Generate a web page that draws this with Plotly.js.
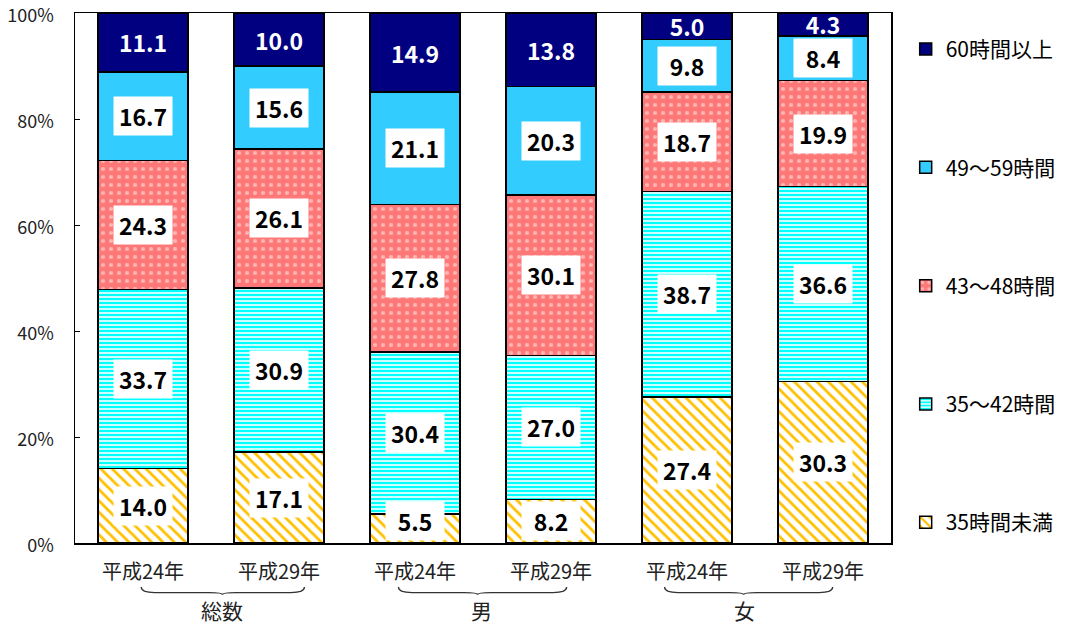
<!DOCTYPE html>
<html>
<head>
<meta charset="utf-8">
<script src="https://cdn.plot.ly/plotly-3.0.1.min.js"></script>
<style>
  html, body { margin: 0; padding: 0; background: #fff; }
  #chart { width: 1073px; height: 630px; }
</style>
</head>
<body>
<div id="chart"></div>
<script>
// 週間就業時間の構成比（平成24年・29年）
const years = ["平成24年", "平成29年", "平成24年", "平成29年", "平成24年", "平成29年"];
const groups = ["総数", "男", "女"];

const seriesNames = ["35時間未満", "35～42時間", "43～48時間", "49～59時間", "60時間以上"];
const under35  = [14.0, 17.1, 5.5, 8.2, 27.4, 30.3];
const h35to42  = [33.7, 30.9, 30.4, 27.0, 38.7, 36.6];
const h43to48  = [24.3, 26.1, 27.8, 30.1, 18.7, 19.9];
const h49to59  = [16.7, 15.6, 21.1, 20.3, 9.8, 8.4];
const over60   = [11.1, 10.0, 14.9, 13.8, 5.0, 4.3];

const yTicks = [0, 20, 40, 60, 80, 100];
const yTickText = ["0%", "20%", "40%", "60%", "80%", "100%"];

const series = [under35, h35to42, h43to48, h49to59, over60];
const xs = years.map((_, i) => i);

const FONT = '"Noto Sans CJK JP", "Noto Sans", sans-serif';

const styles = [
  { color: "#ffffff", pattern: { shape: "\\", fgcolor: "#FFC000", bgcolor: "#ffffff", size: 8, solidity: 0.35, fillmode: "replace" } },
  { color: "#ffffff", pattern: { shape: "-", fgcolor: "#00FFFF", bgcolor: "#ffffff", size: 4, solidity: 0.6, fillmode: "replace" } },
  { color: "#FF7878", pattern: { shape: ".", fgcolor: "#FFB4B4", bgcolor: "#FF7878", size: 8, solidity: 0.22, fillmode: "replace" } },
  { color: "#33CCFF" },
  { color: "#000080" }
];

const traces = series.map((vals, k) => ({
  type: "bar",
  name: seriesNames[k],
  x: xs,
  y: vals,
  legendgroup: "g" + k,
  legendrank: 1000 - k * 10,
  marker: Object.assign({ line: { color: "#000", width: 1.5 } }, styles[k]),
  hoverinfo: "name+y"
}));

// value labels placed at the middle of each (normalised) segment
const annotations = [];
xs.forEach(i => {
  const total = series.reduce((s, arr) => s + arr[i], 0);
  let cum = 0;
  series.forEach((arr, k) => {
    const v = arr[i];
    let mid = (cum + v / 2) / total * 100;
    cum += v;
    const isTop = k === series.length - 1;
    if (!isTop) mid = Math.max(mid, 4.2);
    annotations.push({
      x: i, y: mid, xref: "x", yref: "y",
      text: v.toFixed(1),
      showarrow: false,
      font: { family: FONT, size: 23, color: isTop ? "#ffffff" : "#000000", weight: "bold" },
      bgcolor: isTop ? "rgba(0,0,0,0)" : "#ffffff",
      width: 58, height: 38,
      borderpad: 0
    });
  });
});

// group captions under the braces
const groupPos = [0.584, 2.49, 4.42];
groups.forEach((g, j) => {
  annotations.push({
    x: groupPos[j], y: -0.127, xref: "x", yref: "paper",
    text: g, showarrow: false, yanchor: "middle",
    font: { family: FONT, size: 21, color: "#222" }
  });
});

// horizontal curly braces joining each pair of bars
function brace(x0, xm, x1) {
  const ya = -0.083, yb = -0.0935, yc = -0.0975, d = 0.1;
  return {
    type: "path", xref: "x", yref: "paper",
    path: `M${x0},${ya} Q${x0},${yb} ${x0 + d},${yb} L${xm - d},${yb} Q${xm},${yb} ${xm},${yc} ` +
          `Q${xm},${yb} ${xm + d},${yb} L${x1 - d},${yb} Q${x1},${yb} ${x1},${ya}`,
    line: { color: "#333", width: 1.3 }
  };
}
const shapes = [
  brace(-0.013, 0.584, 1.187),
  brace(1.878, 2.46, 3.115),
  brace(3.835, 4.416, 5.071)
];

const layout = {
  width: 1073, height: 630,
  margin: { l: 75, r: 173, t: 13, b: 87 },
  paper_bgcolor: "#fff", plot_bgcolor: "#fff",
  barmode: "stack", barnorm: "percent", bargap: 0.34,
  font: { family: FONT, color: "#222" },
  showlegend: true,
  legend: {
    x: 1.018, xanchor: "left", y: 0.97, yanchor: "top",
    traceorder: "grouped", tracegroupgap: 88,
    font: { family: FONT, size: 21, color: "#000" },
    itemwidth: 30
  },
  xaxis: {
    range: [-0.5, 5.5], tickmode: "array", tickvals: xs, ticktext: years,
    showline: true, linecolor: "#000", linewidth: 1.5, mirror: true,
    ticks: "", showgrid: false, zeroline: false,
    tickfont: { family: FONT, size: 20, color: "#222" },
    ticklabelstandoff: 10, fixedrange: true
  },
  yaxis: {
    range: [0, 100], tickmode: "array", tickvals: yTicks, ticktext: yTickText,
    showline: true, linecolor: "#000", linewidth: 1.5, mirror: true,
    ticks: "inside", ticklen: 5, tickcolor: "#000",
    showgrid: false, zeroline: false,
    tickfont: { family: FONT, size: 18, color: "#222" },
    ticklabelstandoff: 16, ticklabelshift: 3, ticklabeloverflow: "allow", fixedrange: true
  },
  annotations, shapes
};

Plotly.newPlot("chart", traces, layout, { staticPlot: true, displayModeBar: false });
</script>
</body>
</html>
